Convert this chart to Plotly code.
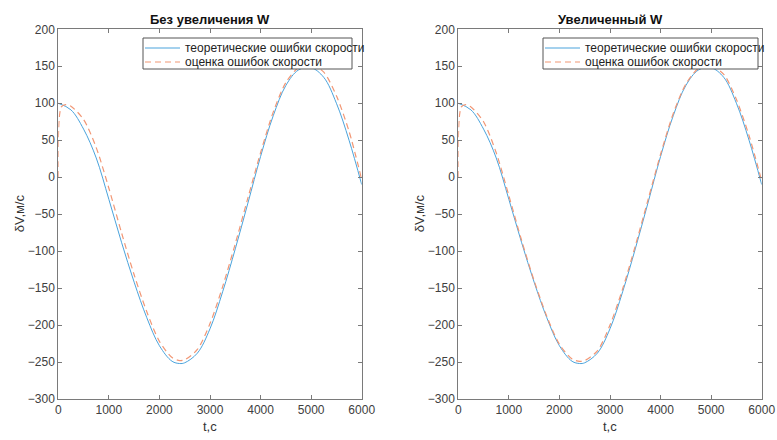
import plotly.graph_objects as go

# ---- data ----
t = [0, 250, 500, 750, 1000, 1250, 1500, 1750, 2000, 2250, 2400, 2500, 2750,
     3000, 3250, 3500, 3750, 4000, 4250, 4500, 4750, 5000, 5250, 5500, 5750, 6000]
theory = [100, 91, 65, 26, -30, -88, -142, -190, -228, -249, -252, -251, -238,
          -205, -155, -97, -35, 28, 83, 124, 145, 148, 135, 100, 50, -10]

t_est = [0, 60, 150, 250, 500, 750, 1000, 1250, 1500, 1750, 2000, 2250, 2400, 2500, 2750,
         3000, 3250, 3500, 3750, 4000, 4250, 4500, 4750, 5000, 5250, 5500, 5750, 6000]
est_left = [0, 95, 98, 96, 78, 40, -15, -75, -132, -182, -222, -244, -248, -247, -233,
            -198, -148, -90, -28, 33, 88, 128, 148, 152, 142, 110, 62, -3]
est_right = [0, 95, 98, 95, 75, 33, -25, -85, -140, -188, -226, -246, -249, -248, -235,
             -200, -151, -93, -31, 31, 86, 126, 147, 150, 139, 105, 56, -5]

titles = ["Без увеличения W", "Увеличенный W"]
legend_names = ["теоретические ошибки скорости", "оценка ошибок скорости"]
x_ticks = [0, 1000, 2000, 3000, 4000, 5000, 6000]
y_ticks = [-300, -250, -200, -150, -100, -50, 0, 50, 100, 150, 200]
x_label = "t,c"
y_label = "δV,м/с"

W, H = 777, 440
BLUE = "#4aa3dc"
ORANGE = "#f29775"
AX = "#7a7a7a"
FONT = "Liberation Sans, Arial, sans-serif"

# axes pixel boxes
left_px = [(58.3, 361.7), (458.3, 761.7)]
top_px, bot_px = 29.3, 399.0
legend_box = [(143, 352), (543, 758)]
leg_top, leg_bot = 38, 69
row_y = [48, 62]

fig = go.Figure()
ests = [est_left, est_right]
for i in range(2):
    xa = "x" if i == 0 else "x2"
    ya = "y" if i == 0 else "y2"
    fig.add_trace(go.Scatter(x=t, y=theory, mode="lines", name=legend_names[0],
                             line=dict(color=BLUE, width=1, shape="spline"),
                             xaxis=xa, yaxis=ya, showlegend=False))
    fig.add_trace(go.Scatter(x=t_est, y=ests[i], mode="lines", name=legend_names[1],
                             line=dict(color=ORANGE, width=1.2, dash="6px,4px", shape="spline", smoothing=0.8),
                             xaxis=xa, yaxis=ya, showlegend=False))

ydom = [(H - bot_px) / H, (H - top_px) / H]
axis_common = dict(showline=True, linecolor=AX, linewidth=1, mirror="allticks",
                   ticks="inside", ticklen=4, tickcolor=AX, showgrid=False, zeroline=False,
                   tickfont=dict(family=FONT, size=12, color="#404040"), automargin=False)
layout = dict(
    width=W, height=H, margin=dict(l=0, r=0, t=0, b=0),
    paper_bgcolor="white", plot_bgcolor="white", font=dict(family=FONT),
    showlegend=False,
)
for i in range(2):
    sx = "" if i == 0 else "2"
    l, r = left_px[i]
    layout["xaxis" + sx] = dict(domain=[l / W, r / W], range=[0, 6000], tickvals=x_ticks,
                                anchor="y" + sx, **axis_common)
    layout["yaxis" + sx] = dict(domain=ydom, range=[-300, 200], tickvals=y_ticks,
                                anchor="x" + sx, **axis_common)
fig.update_layout(**layout)

def px(x):
    return x / W

def py(y):
    return (H - y) / H

ann = []
shapes = []
for i in range(2):
    l, r = left_px[i]
    cx = (l + r) / 2 / W
    ann.append(dict(text="<b>" + titles[i] + "</b>", x=cx, y=py(20), xref="paper", yref="paper",
                    showarrow=False, font=dict(family=FONT, size=13, color="#111111"),
                    xanchor="center", yanchor="middle"))
    ann.append(dict(text=x_label, x=cx, y=py(426), xref="paper", yref="paper",
                    showarrow=False, font=dict(family=FONT, size=13, color="#333333"),
                    xanchor="center", yanchor="middle"))
    ann.append(dict(text=y_label, x=px(l - 39), y=py(213), xref="paper", yref="paper",
                    showarrow=False, textangle=-90, font=dict(family=FONT, size=13, color="#333333"),
                    xanchor="center", yanchor="middle"))
    # legend (box, sample lines, labels)
    bl, br = legend_box[i]
    shapes.append(dict(type="rect", xref="paper", yref="paper", x0=px(bl), x1=px(br),
                       y0=py(leg_bot), y1=py(leg_top), fillcolor="white",
                       line=dict(color="#555555", width=1), layer="above"))
    styles = [dict(color=BLUE, width=1), dict(color=ORANGE, width=1.2, dash="6px,4px")]
    for k in range(2):
        shapes.append(dict(type="line", xref="paper", yref="paper", x0=px(bl + 2), x1=px(bl + 37),
                           y0=py(row_y[k]), y1=py(row_y[k]), line=styles[k], layer="above"))
        ann.append(dict(text=legend_names[k], x=px(bl + 40), y=py(row_y[k]), xref="paper", yref="paper",
                        showarrow=False, font=dict(family=FONT, size=12, color="#222222"),
                        xanchor="left", yanchor="middle"))
fig.update_layout(annotations=ann, shapes=shapes)

fig.write_html("out.html", config={"displayModeBar": False},
               post_script="document.body.style.margin='0px';")
